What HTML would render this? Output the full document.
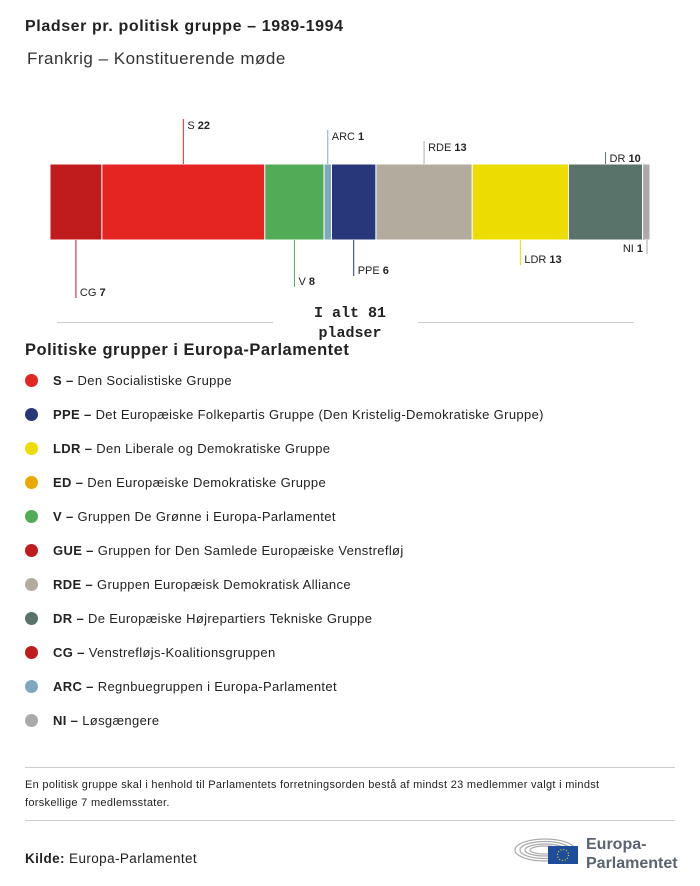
<!DOCTYPE html>
<html><head><meta charset="utf-8">
<style>
body{margin:0;background:#fff;font-family:"Liberation Sans",sans-serif;color:#222;}
#root{position:relative;width:700px;height:886px;overflow:hidden;}
.t{position:absolute;white-space:nowrap;}
.leg{position:absolute;left:25px;font-size:13px;letter-spacing:0.35px;}
.dot{position:absolute;left:0;top:1px;width:13px;height:13px;border-radius:50%;}
.leg span.txt{position:absolute;left:28px;top:0;white-space:nowrap;}
</style></head><body>
<div id="root">
<div class="t" style="left:25px;top:18px;font-size:16px;font-weight:bold;letter-spacing:0.6px;">Pladser pr. politisk gruppe – 1989-1994</div>
<div class="t" style="left:27px;top:49px;font-size:17px;color:#333;letter-spacing:0.5px;">Frankrig – Konstituerende møde</div>
<svg id="chart" width="700" height="345" style="position:absolute;left:0;top:0"></svg>
<div class="t" style="left:25px;top:341px;font-size:16.5px;font-weight:bold;letter-spacing:0.5px;">Politiske grupper i Europa-Parlamentet</div>
<div id="legend"></div>
<div style="position:absolute;left:25px;top:767px;width:650px;border-top:1px solid #ccc;"></div>
<div class="t" style="left:25px;top:776px;font-size:11px;line-height:18px;white-space:normal;width:630px;letter-spacing:0.3px;">En politisk gruppe skal i henhold til Parlamentets forretningsorden bestå af mindst 23 medlemmer valgt i mindst forskellige 7 medlemsstater.</div>
<div style="position:absolute;left:25px;top:820px;width:650px;border-top:1px solid #ccc;"></div>
<div class="t" style="left:25px;top:851px;font-size:13.5px;letter-spacing:0.4px;"><b>Kilde:</b> Europa-Parlamentet</div>
<svg style="position:absolute;left:513px;top:828px" width="170" height="44">
<g fill="none" stroke="#aaa" stroke-width="1.2">
<ellipse cx="32" cy="22" rx="30" ry="11"/><ellipse cx="32" cy="22" rx="25" ry="8.5"/><ellipse cx="32" cy="22" rx="20" ry="6"/><ellipse cx="32" cy="22" rx="15" ry="4"/></g>
<rect x="35" y="18" width="30" height="18" fill="#1e4d9b"/>
<circle cx="50" cy="27" r="5.5" fill="none" stroke="#f5d500" stroke-width="1.2" stroke-dasharray="1 1.9"/>
<text x="73" y="21" font-size="16" font-weight="bold" fill="#5a6470" font-family="Liberation Sans">Europa-</text>
<text x="73" y="40" font-size="16" font-weight="bold" fill="#5a6470" font-family="Liberation Sans">Parlamentet</text>
</svg>
</div>
<script>
const groups=["CG","S","V","ARC","PPE","RDE","LDR","DR","NI"];
const seats=[7,22,8,1,6,13,13,10,1];
const colors=["#c01b1d","#e42522","#52ac57","#7fa8c0","#27377a","#b3ab9e","#ecdc00","#59736b","#aaaaaa"];
const labelSide=["below","above","below","above","below","above","below","above","below"];
const labelLevel=[4,0,3,1,2,2,1,3,0];
const totalLabel="I alt 81";
const NS="http://www.w3.org/2000/svg";
const svg=document.getElementById('chart');
const total=seats.reduce((a,b)=>a+b,0);
const x0=50,x1=650,yTop=164,yBot=240;
function xs(v){return x0+(x1-x0)*v/total;}
let cum=0;
function mk(tag,attrs){const e=document.createElementNS(NS,tag);for(const k in attrs)e.setAttribute(k,attrs[k]);svg.appendChild(e);return e;}
groups.forEach((g,i)=>{
  const a=xs(cum),b=xs(cum+seats[i]);cum+=seats[i];
  const r=mk('rect',{x:a,y:yTop,width:b-a,height:yBot-yTop,fill:colors[i],stroke:'#fff','stroke-width':1});
  
  
  const mid=(i===groups.length-1)?b-3:(a+b)/2;
  let y1,y2,ty;
  if(labelSide[i]==='above'){y2=yTop;y1=119+labelLevel[i]*11;ty=y1+10;}
  else{y1=yBot;y2=254+labelLevel[i]*11;ty=y2-2;}
  const l=mk('line',{x1:mid,x2:mid,y1:y1,y2:y2,stroke:colors[i],'stroke-width':1});
  
  
  const anchorEnd=(i===groups.length-1);
  const t=mk('text',{x:anchorEnd?mid-4:mid+4,y:ty,'font-size':11,fill:'#222','font-family':'Liberation Sans','text-anchor':anchorEnd?'end':'start'});
  t.innerHTML=g+' <tspan font-weight="bold">'+seats[i]+'</tspan>';
  
  
});
const l1=mk('line',{x1:57,x2:273,y1:322.5,y2:322.5,stroke:'#ccc'});


const l2=mk('line',{x1:418,x2:634,y1:322.5,y2:322.5,stroke:'#ccc'});


const tt=mk('text',{x:350,y:317,'font-size':15,'font-weight':'bold','font-family':'Liberation Mono','text-anchor':'middle',fill:'#222'});
tt.textContent=totalLabel;


const tt2=mk('text',{x:350,y:337,'font-size':15,'font-weight':'bold','font-family':'Liberation Mono','text-anchor':'middle',fill:'#222'});
tt2.textContent='pladser';



const legAbbr=["S","PPE","LDR","ED","V","GUE","RDE","DR","CG","ARC","NI"];
const legText=["Den Socialistiske Gruppe","Det Europæiske Folkepartis Gruppe (Den Kristelig-Demokratiske Gruppe)","Den Liberale og Demokratiske Gruppe","Den Europæiske Demokratiske Gruppe","Gruppen De Grønne i Europa-Parlamentet","Gruppen for Den Samlede Europæiske Venstrefløj","Gruppen Europæisk Demokratisk Alliance","De Europæiske Højrepartiers Tekniske Gruppe","Venstrefløjs-Koalitionsgruppen","Regnbuegruppen i Europa-Parlamentet","Løsgængere"];
const legColors=["#e42522","#27377a","#ecdc00","#eaa900","#52ac57","#c01b1d","#b3ab9e","#59736b","#c01b1d","#7fa8c0","#aaaaaa"];
const leg=document.getElementById('legend');
legAbbr.forEach((a,i)=>{
  const d=document.createElement('div');d.className='leg';d.style.top=(373+i*34)+'px';
  d.innerHTML='<div class="dot" style="background:'+legColors[i]+'"></div><span class="txt"><b>'+a+' –</b> '+legText[i]+'</span>';
  
  
  leg.appendChild(d);
});
</script>
</body></html>
